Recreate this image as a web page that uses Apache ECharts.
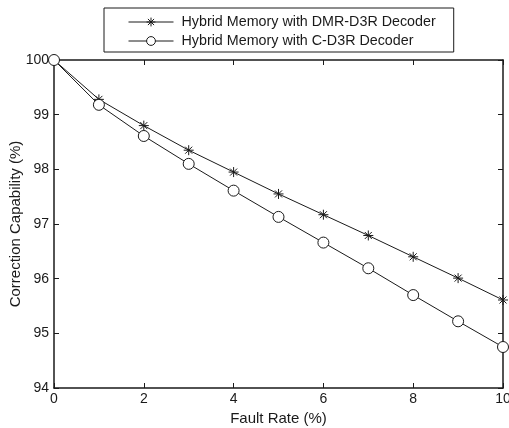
<!DOCTYPE html>
<html>
<head>
<meta charset="utf-8">
<script src="https://cdn.jsdelivr.net/npm/echarts@6/dist/echarts.min.js"></script>
<style>
  html, body { margin: 0; padding: 0; background: #fff; }
  #chart { width: 509px; height: 428px; }
</style>
</head>
<body>
<div id="chart"></div>
<script>
var faultRate = [0, 1, 2, 3, 4, 5, 6, 7, 8, 9, 10]
var dmrD3r = [100, 99.28, 98.8, 98.35, 97.95, 97.55, 97.17, 96.79, 96.4, 96.01, 95.61]
var cD3r = [100, 99.18, 98.61, 98.1, 97.61, 97.13, 96.66, 96.19, 95.7, 95.22, 94.75]
var seriesNames = ["Hybrid Memory with DMR-D3R Decoder", "Hybrid Memory with C-D3R Decoder"]

var ink = "#1a1a1a"
var font = "Liberation Sans, Arial, sans-serif"
// asterisk marker: + and x combined
var star = "path://M5,0 L5,10 M0,5 L10,5 M1.5,1.5 L8.5,8.5 M1.5,8.5 L8.5,1.5"

function pairs(ys) {
  return faultRate.map(function (x, i) { return [x, ys[i]] })
}

var chart = echarts.init(document.getElementById("chart"))

var baseX = {
  type: "value", min: 0, max: 10, interval: 2,
  axisLine: { show: true, onZero: false, lineStyle: { color: ink, width: 1.5 } },
  axisTick: { show: true, inside: true, length: 5, lineStyle: { color: ink } },
  splitLine: { show: false }
}
var baseY = {
  type: "value", min: 94, max: 100, interval: 1,
  axisLine: { show: true, onZero: false, lineStyle: { color: ink, width: 1.5 } },
  axisTick: { show: true, inside: true, length: 5, lineStyle: { color: ink } },
  splitLine: { show: false }
}

var option = {
  backgroundColor: "#fff",
  animation: false,
  grid: { left: 54, right: 6, top: 60, bottom: 40, containLabel: false, outerBoundsMode: "none" },
  legend: {
    orient: "vertical",
    left: 104,
    top: 8,
    padding: [7, 18, 4, 24],
    itemWidth: 45,
    itemHeight: 11,
    itemGap: 5,
    borderColor: ink,
    borderWidth: 1,
    lineStyle: { width: 1 },
    itemStyle: { borderWidth: 1 },
    textStyle: { fontFamily: font, fontSize: 14.3, lineHeight: 14, color: ink, padding: [0, 0, 0, 3] },
    data: seriesNames
  },
  xAxis: [
    Object.assign({}, baseX, {
      position: "bottom",
      name: "Fault Rate (%)",
      nameLocation: "middle",
      nameGap: 22,
      nameTextStyle: { fontFamily: font, fontSize: 15, color: ink },
      axisLabel: { fontFamily: font, fontSize: 14, color: ink, margin: 4 }
    }),
    Object.assign({}, baseX, { position: "top", axisLabel: { show: false } })
  ],
  yAxis: [
    Object.assign({}, baseY, {
      position: "left",
      name: "Correction Capability (%)",
      nameLocation: "middle",
      nameGap: 31,
      nameMoveOverlap: false,
      nameTextStyle: { fontFamily: font, fontSize: 15, color: ink },
      axisLabel: { fontFamily: font, fontSize: 14, color: ink, margin: 5 }
    }),
    Object.assign({}, baseY, { position: "right", axisLabel: { show: false } })
  ],
  series: [
    {
      name: seriesNames[0],
      type: "line",
      data: pairs(dmrD3r),
      symbol: star,
      symbolSize: 10,
      lineStyle: { color: ink, width: 1 },
      itemStyle: { color: ink, borderColor: ink, borderWidth: 1 },
      z: 3
    },
    {
      name: seriesNames[1],
      type: "line",
      data: pairs(cD3r),
      symbol: "circle",
      symbolSize: 11,
      lineStyle: { color: ink, width: 1 },
      itemStyle: { color: "#fff", borderColor: ink, borderWidth: 1 },
      z: 3
    }
  ]
}

chart.setOption(option)
</script>
</body>
</html>
